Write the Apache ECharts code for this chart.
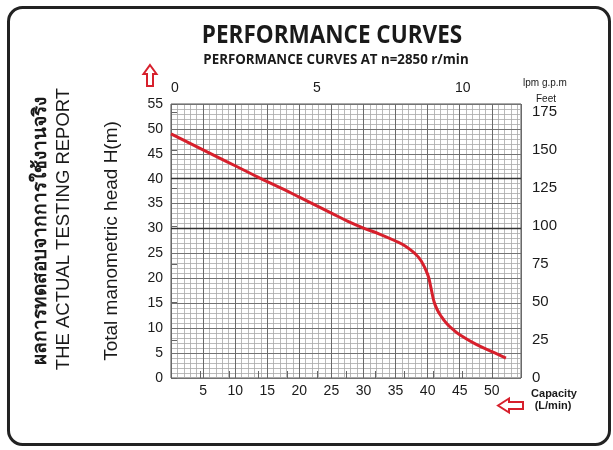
<!DOCTYPE html>
<html>
<head>
<meta charset="utf-8">
<script src="https://cdn.jsdelivr.net/npm/echarts@6/dist/echarts.min.js"></script>
<style>
html,body{margin:0;padding:0;background:#fff;}
#c{width:613px;height:450px;}
</style>
</head>
<body>
<div id="c"></div>
<script>
// Capacity in L/min and head in metres
const capacity = [0, 2.5, 5, 7.5, 10, 12.5, 15, 17.5, 20, 22.5, 25, 27.5, 30, 32.5, 35, 36.5, 38, 39, 40, 40.5, 41, 41.5, 42, 43, 44, 45, 47.5, 50, 52.2];
const head =     [49.0, 47.4, 45.8, 44.2, 42.6, 41.0, 39.4, 37.9, 36.3, 34.7, 33.1, 31.5, 30.1, 28.9, 27.5, 26.5, 25.0, 23.5, 20.8, 18.2, 15.3, 13.7, 12.6, 10.9, 9.7, 8.7, 6.8, 5.3, 4.0];

// Axis ranges
const lpmMax = 54.55;          // = 12 imperial g.p.m
const gpmMax = 12;
const headMax = 55;
const feetMax = 55 / 0.3048;
const darkHeadLines = [30, 40];

const titleText = 'PERFORMANCE CURVES';
const subtitleText = 'PERFORMANCE CURVES AT n=2850 r/min';
const thaiText = 'ผลการทดสอบจากการใช้งานจริง';
const reportText = 'THE ACTUAL TESTING REPORT';
const yName = 'Total manometric head H(m)';

const curveData = capacity.map((c, i) => [c, head[i]]);

const chart = echarts.init(document.getElementById('c'), null, {renderer: 'canvas'});
const red = '#d7202c';
const txt = '#1a1a1a';
const ff = '"Liberation Sans", Arial, sans-serif';

chart.setOption({
  animation: false,
  backgroundColor: '#fff',
  grid: {left: 171, right: 92, top: 104, bottom: 72, show: true, borderColor: '#555', borderWidth: 1, backgroundColor: '#fff'},
  xAxis: [
    {type: 'value', position: 'bottom', min: 0, max: lpmMax, interval: 5, z: 2,
     axisLine: {show: false}, axisTick: {show: false},
     axisLabel: {color: txt, fontSize: 14, fontFamily: ff, margin: 6,
       formatter: v => (v > 0 && v <= 50 && Math.abs(v % 5) < 1e-6) ? String(v) : ''},
     splitLine: {show: true, lineStyle: {color: '#6a6a6a', width: 1}}},
    {type: 'value', position: 'bottom', min: 0, max: lpmMax, interval: 1, z: 1,
     axisLine: {show: false}, axisTick: {show: false}, axisLabel: {show: false},
     splitLine: {show: true, lineStyle: {color: '#a8a8a8', width: 0.8}}},
    {type: 'value', position: 'top', min: 0, max: gpmMax, interval: 1, z: 2,
     axisLine: {show: false},
     axisTick: {show: true, inside: false, length: 7, lineStyle: {color: '#666'}},
     axisLabel: {color: txt, fontSize: 14, fontFamily: ff, margin: 9, alignMinLabel: 'left',
       formatter: v => (v % 5 === 0) ? String(v) : ''},
     splitLine: {show: false}}
  ],
  yAxis: [
    {type: 'value', position: 'left', min: 0, max: headMax, interval: 5, z: 2,
     axisLine: {show: false}, axisTick: {show: false},
     axisLabel: {color: txt, fontSize: 14, fontFamily: ff, margin: 8},
     splitLine: {show: true, lineStyle: {color: '#737373', width: 1}},
     name: yName, nameLocation: 'middle', nameGap: 50,
     nameTextStyle: {fontSize: 19, fontFamily: ff, color: txt}},
    {type: 'value', position: 'left', min: 0, max: headMax, interval: 1, z: 1,
     axisLine: {show: false}, axisTick: {show: false}, axisLabel: {show: false},
     splitLine: {show: true, lineStyle: {color: '#a8a8a8', width: 0.8}}},
    {type: 'value', position: 'right', min: 0, max: feetMax, interval: 25, z: 2,
     axisLine: {show: false},
     axisTick: {show: true, inside: false, length: 6, lineStyle: {color: '#666'}},
     axisLabel: {color: txt, fontSize: 15, fontFamily: ff, margin: 11,
       formatter: v => (v <= 175 && v % 25 === 0) ? String(v) : ''},
     splitLine: {show: false}}
  ],
  series: [{
    type: 'line', xAxisIndex: 0, yAxisIndex: 0, data: curveData,
    smooth: 0.45, showSymbol: false, z: 5,
    lineStyle: {color: red, width: 3},
    markLine: {silent: true, symbol: 'none', z: 3, label: {show: false},
      lineStyle: {color: '#333', width: 1.3, type: 'solid'},
      data: darkHeadLines.map(v => ({yAxis: v}))}
  }],
  graphic: [
    {type: 'rect', shape: {x: 8.5, y: 7.5, width: 601, height: 437, r: 14}, z: 100,
     style: {fill: 'none', stroke: '#222', lineWidth: 3}},
    {type: 'text', x: 332, y: 36, scaleX: 0.9, z: 100,
     style: {text: titleText, x: 0, y: 0, align: 'center', verticalAlign: 'middle',
       font: 'bold 25px "Open Sans"', fill: txt}},
    {type: 'text', x: 336, y: 60, scaleX: 0.95, z: 100,
     style: {text: subtitleText, x: 0, y: 0, align: 'center', verticalAlign: 'middle',
       font: 'bold 14px "Open Sans"', fill: txt}},
    {type: 'text', x: 41, y: 231, rotation: Math.PI / 2, z: 100,
     style: {text: thaiText, x: 0, y: 0, align: 'center', verticalAlign: 'middle',
       font: 'bold 19px "Noto Sans", sans-serif', fill: txt}},
    {type: 'text', x: 64, y: 229, rotation: Math.PI / 2, z: 100,
     style: {text: reportText, x: 0, y: 0, align: 'center', verticalAlign: 'middle',
       font: '18.5px "Liberation Sans"', fill: txt}},
    {type: 'text', x: 545, y: 83, z: 100,
     style: {text: 'lpm g.p.m', x: 0, y: 0, align: 'center', verticalAlign: 'middle',
       font: '10px "Liberation Sans"', fill: txt}},
    {type: 'text', x: 546, y: 99, z: 100,
     style: {text: 'Feet', x: 0, y: 0, align: 'center', verticalAlign: 'middle',
       font: '10px "Liberation Sans"', fill: txt}},
    {type: 'text', x: 554, y: 394, z: 100,
     style: {text: 'Capacity', x: 0, y: 0, align: 'center', verticalAlign: 'middle',
       font: 'bold 11px "Liberation Sans"', fill: txt}},
    {type: 'text', x: 553, y: 406, z: 100,
     style: {text: '(L/min)', x: 0, y: 0, align: 'center', verticalAlign: 'middle',
       font: 'bold 11px "Liberation Sans"', fill: txt}},
    {type: 'polygon', z: 100,
     shape: {points: [[150, 65], [156.5, 74], [153, 74], [153, 86], [147, 86], [147, 74], [143.5, 74]]},
     style: {fill: '#fff', stroke: red, lineWidth: 2}},
    {type: 'polygon', z: 100,
     shape: {points: [[498, 405.5], [509, 398.5], [509, 402], [523, 402], [523, 409], [509, 409], [509, 412.5]]},
     style: {fill: '#fff', stroke: red, lineWidth: 2}}
  ]
});
</script>
</body>
</html>
